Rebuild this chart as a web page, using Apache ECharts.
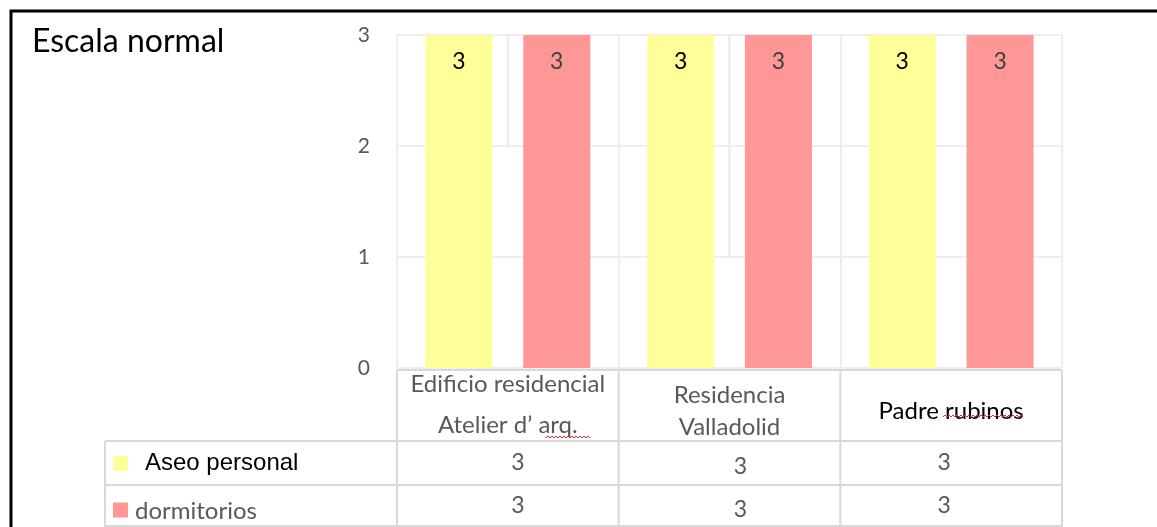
<!DOCTYPE html>
<html><head><meta charset="utf-8">
<script src="https://cdn.jsdelivr.net/npm/echarts@6/dist/echarts.min.js"></script>
<style>html,body{margin:0;padding:0;background:#fff}#chart{width:1157px;height:527px}</style>
</head><body><div id="chart"></div>
<script>
// Chart data
const categories = [['Edificio residencial', 'Atelier d’ arq.'], ['Residencia', 'Valladolid'], ['Padre rubinos']];
const seriesNames = ['Aseo personal', 'dormitorios'];
const aseoPersonal = [3, 3, 3];
const dormitorios = [3, 3, 3];
const yTicks = [0, 1, 2, 3];

const seriesColors = ['#FFFF99', '#FF9797'];
const labelColors = ['#000000', '#404040'];
const catTextColors = ['#595959', '#595959', '#000000'];
const gridColor = '#EEEEEE';
const tableColor = '#D9D9D9';
const FONT = 'Lato';

const chart = echarts.init(document.getElementById('chart'), null, { renderer: 'canvas' });
const seriesData = [aseoPersonal, dormitorios];

chart.setOption({
  animation: false,
  backgroundColor: '#fff',
  grid: { left: 397, right: 95, top: 35, bottom: 159, containLabel: false },
  xAxis: {
    type: 'category',
    data: categories.map(c => c.join('\n')),
    axisLine: { show: false }, axisTick: { show: false }, axisLabel: { show: false },
    splitLine: { show: true, lineStyle: { color: gridColor, width: 2 } }
  },
  yAxis: {
    type: 'value', min: yTicks[0], max: yTicks[yTicks.length - 1], interval: 1,
    axisLine: { show: false }, axisTick: { show: false },
    axisLabel: { color: '#595959', fontSize: 21, fontFamily: FONT, margin: 27 },
    splitLine: { lineStyle: { color: gridColor, width: 2 } }
  },
  series: seriesNames.map((name, i) => ({
    name, type: 'bar',
    data: seriesData[i],
    barWidth: 67, barGap: '46%',
    itemStyle: { color: seriesColors[i] },
    label: {
      show: true, position: 'insideTop', distance: 15,
      color: labelColors[i], fontSize: 23, fontFamily: FONT
    }
  }))
});

// Frame, title and the data table under the plot
function drawExtras() {
  const n = categories.length;
  const half = (chart.convertToPixel({ xAxisIndex: 0 }, 1) - chart.convertToPixel({ xAxisIndex: 0 }, 0)) / 2;
  const xs = [];
  for (let k = 0; k < n; k++) xs.push(chart.convertToPixel({ xAxisIndex: 0 }, k) - half);
  xs.push(chart.convertToPixel({ xAxisIndex: 0 }, n - 1) + half);
  const yAt = v => chart.convertToPixel({ yAxisIndex: 0 }, v);
  const yZero = yAt(0);
  const headTop = yZero + 2, headBot = 441, row1Bot = 485, row2Bot = 526;
  const legendLeft = 105;
  const els = [];
  const line = (x1, y1, x2, y2, color, w) => els.push({
    type: 'line', shape: { x1, y1, x2, y2 }, style: { stroke: color, lineWidth: w }, silent: true, z: 1
  });

  // partial mid-group grid lines
  line(xs[0] + half, yAt(3), xs[0] + half, yAt(2), gridColor, 3);
  line(xs[1] + half, yAt(3), xs[1] + half, yAt(1), gridColor, 3);

  // table borders
  line(xs[0], headTop, xs[n], headTop, tableColor, 2);
  [headBot, row1Bot, row2Bot].forEach(y => line(legendLeft, y, xs[n], y, tableColor, 2));
  xs.forEach(x => line(x, headTop, x, row2Bot + 1, tableColor, 2));
  line(legendLeft, headBot, legendLeft, row2Bot + 1, tableColor, 2);

  // category header cells
  categories.forEach((c, k) => {
    const cx = (xs[k] + xs[k + 1]) / 2;
    const cy = (headTop + headBot) / 2;
    const lh = c.length > 1 ? (k === 0 ? 41 : 32) : 0;
    c.forEach((t, j) => {
      els.push({
        type: 'text', silent: true,
        style: {
          text: t, x: cx, y: cy + (j - (c.length - 1) / 2) * lh + (k === 0 ? -1 : 6),
          align: 'center', verticalAlign: 'middle',
          fill: catTextColors[k], fontSize: 24, fontFamily: FONT
        }
      });
    });
  });

  // legend rows with values
  const rows = [[headBot, row1Bot], [row1Bot, row2Bot]];
  seriesNames.forEach((name, i) => {
    const cy = (rows[i][0] + rows[i][1]) / 2;
    els.push({
      type: 'rect', silent: true,
      shape: { x: 113, y: cy - 7 + (i === 1 ? 4 : 0), width: 15, height: 15 },
      style: { fill: seriesColors[i] }
    });
    els.push({
      type: 'text', silent: true,
      style: {
        text: name, x: i === 0 ? 145 : 135, y: cy + (i === 1 ? 6 : 0),
        align: 'left', verticalAlign: 'middle',
        fill: i === 0 ? '#000000' : '#595959', fontSize: 24,
        fontFamily: i === 0 ? 'Liberation Sans' : FONT
      }
    });
    seriesData[i].forEach((v, k) => {
      els.push({
        type: 'text', silent: true,
        style: {
          text: String(v), x: (xs[k] + xs[k + 1]) / 2 + (k === 2 ? -7 : (k === 0 ? 10 : 11)),
          y: cy + (k === 1 ? 4 : 0),
          align: 'center', verticalAlign: 'middle',
          fill: '#595959', fontSize: 23, fontFamily: FONT
        }
      });
    });
  });

  // spell-check squiggles under two header words
  const squiggle = (x1, x2, y) => {
    const pts = [];
    for (let x = x1, s = 0; x <= x2; x += 2, s++) pts.push([x, y + (s % 2 ? -1 : 1)]);
    els.push({ type: 'polyline', silent: true, shape: { points: pts }, style: { stroke: '#E03030', lineWidth: 1, fill: null } });
  };
  squiggle(546, 590, 437);
  squiggle(943, 1024, 416);

  // title
  els.push({
    type: 'text', silent: true,
    style: { text: 'Escala normal', x: 32, y: 42, verticalAlign: 'middle', fill: '#000', fontSize: 32, fontFamily: FONT }
  });

  // outer frame
  els.push({
    type: 'polyline', silent: true,
    shape: { points: [[11, 540], [11, 11], [1170, 11]] },
    style: { stroke: '#000', lineWidth: 3, fill: null }
  });

  chart.setOption({ graphic: els });
}
drawExtras();
</script>
</body></html>
